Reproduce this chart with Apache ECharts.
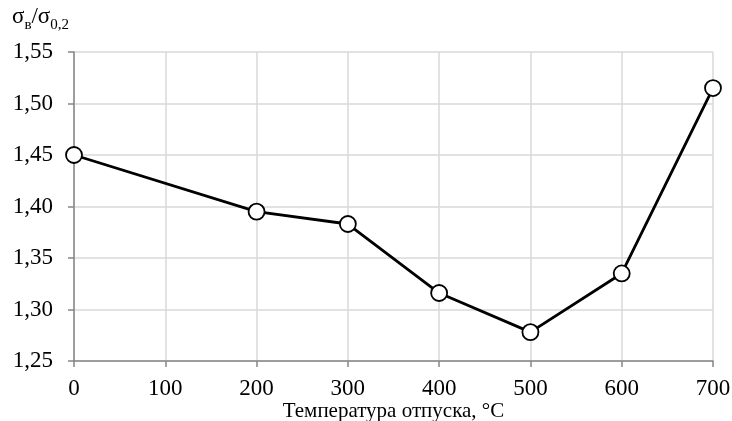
<!DOCTYPE html>
<html><head><meta charset="utf-8">
<script src="https://cdn.jsdelivr.net/npm/echarts@6/dist/echarts.min.js"></script>
<style>html,body{margin:0;padding:0;background:#fff}#c{width:732px;height:421px}</style>
</head><body><div id="c"></div>
<script>
const temperatures = [0, 200, 300, 400, 500, 600, 700];
const ratioValues = [1.450, 1.395, 1.383, 1.316, 1.278, 1.335, 1.515];
const xTitle = 'Температура отпуска, °C';
const font = '"Liberation Serif", "Times New Roman", serif';

const chart = echarts.init(document.getElementById('c'));
chart.setOption({
  animation: false,
  backgroundColor: '#fff',
  grid: { left: 74, right: 19, top: 52, bottom: 60, containLabel: false, outerBoundsMode: 'none' },
  graphic: [{
    type: 'text', left: 12, top: 5,
    style: {
      text: '{a|σ}{s|в}{a|/σ}{s|0,2}',
      rich: {
        a: { fontFamily: font, fontSize: 23, fill: '#000', verticalAlign: 'bottom' },
        s: { fontFamily: font, fontSize: 15, fill: '#000', verticalAlign: 'bottom', padding: [0,0,-5,0] }
      }
    }
  }],
  xAxis: {
    type: 'value', min: 0, max: 700, interval: 100,
    name: xTitle, nameLocation: 'middle', nameGap: 40, nameMoveOverlap: false,
    nameTextStyle: { fontFamily: font, fontSize: 21, color: '#000' },
    axisLine: { show: true, lineStyle: { color: '#868686', width: 1.5 } },
    axisTick: { show: true, length: 6, lineStyle: { color: '#868686', width: 1.5 } },
    axisLabel: { fontFamily: font, fontSize: 23, color: '#000', margin: 16 },
    splitLine: { show: true, lineStyle: { color: '#d9d9d9', width: 1.5 } }
  },
  yAxis: {
    type: 'value', min: 1.25, max: 1.55, interval: 0.05,
    axisLine: { show: true, lineStyle: { color: '#868686', width: 1.5 } },
    axisTick: { show: true, length: 6, lineStyle: { color: '#868686', width: 1.5 } },
    axisLabel: { fontFamily: font, fontSize: 23, color: '#000', margin: 21,
      formatter: v => v.toFixed(2).replace('.', ',') },
    splitLine: { show: true, lineStyle: { color: '#d9d9d9', width: 1.5 } }
  },
  series: [{
    type: 'line',
    data: temperatures.map((t, i) => [t, ratioValues[i]]),
    symbol: 'circle', symbolSize: 16,
    lineStyle: { color: '#000', width: 2.8 },
    itemStyle: { color: '#fff', borderColor: '#000', borderWidth: 1.8 }
  }]
});
</script></body></html>
